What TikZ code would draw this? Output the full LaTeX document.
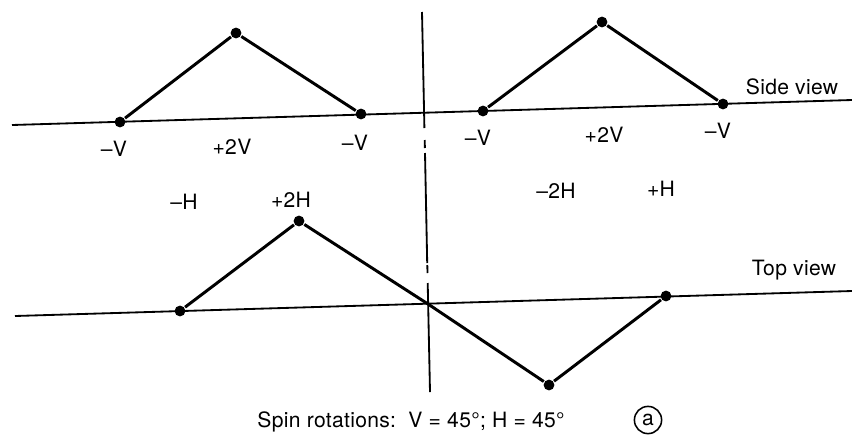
\documentclass[tikz,border=0pt]{standalone}
\usepackage{fontspec}
\setmainfont{TeX Gyre Heros}[LetterSpace=1.5]
\begin{document}
\begin{tikzpicture}[
  x=0.025cm, y=-0.025cm, line width=1.3pt,
    dot/.style={circle, fill=black, inner sep=0pt, minimum size=0.27cm},
    arm/.style={line width=2.1pt},
    lbl/.style={font=\fontsize{15}{17}\selectfont, inner sep=0pt},
]
\useasboundingbox (0,0) rectangle (852,436);
% axis lines
\coordinate (sl) at (12,125);
\coordinate (sr) at (852,100);
\coordinate (tl) at (15,316);
\coordinate (tr) at (852,291);
\draw (sl) -- (sr);
\draw (tl) -- (tr);
% broken vertical divider
\coordinate (d1) at (422,12);
\coordinate (d2) at (424.4,128);
\coordinate (d3) at (424.7,140);
\coordinate (d4) at (424.9,148);
\coordinate (d5) at (425,153);
\coordinate (d6) at (427.2,263);
\coordinate (d7) at (427.3,265);
\coordinate (d8) at (427.5,273);
\coordinate (d9) at (427.7,283);
\coordinate (d10) at (430,392);
\draw (d1) -- (d2);
\draw (d3) -- (d4);
\draw (d5) -- (d6);
\draw (d7) -- (d8);
\draw (d9) -- (d10);
% side view
\node[dot] (v1) at (120,122) {};
\node[dot] (v2) at (236,33) {};
\node[dot] (v3) at (361,114) {};
\node[dot] (v4) at (483,111) {};
\node[dot] (v5) at (602,22) {};
\node[dot] (v6) at (723,104) {};
\draw[arm] (v1) -- (v2) -- (v3);
\draw[arm] (v4) -- (v5) -- (v6);
\node[lbl] (lv1) at (114,149) {–V};
\node[lbl] (lv2) at (232,147) {+2V};
\node[lbl] (lv3) at (355,143) {–V};
\node[lbl] (lv4) at (478,138) {–V};
\node[lbl] (lv5) at (604,135) {+2V};
\node[lbl] (lv6) at (718,131) {–V};
\node[lbl] (side) at (792,87) {Side view};
% top view
\node[dot] (h1) at (180,311) {};
\node[dot] (h2) at (299,221) {};
\coordinate (h3) at (428,304);
\node[dot] (h4) at (549,385) {};
\node[dot] (h5) at (666,296) {};
\draw[arm] (h1) -- (h2) -- (h3) -- (h4) -- (h5);
\node[lbl] (lh1) at (184,202) {–H};
\node[lbl] (lh2) at (291,200) {+2H};
\node[lbl] (lh3) at (556,191) {–2H};
\node[lbl] (lh4) at (661,189) {+H};
\node[lbl] (top) at (794,270) {Top view};
% caption
\node[lbl] (cap) at (411,422) {Spin rotations:\ \ V = 45°; H = 45°};
\node[draw, circle, line width=1.1pt, minimum size=0.68cm, inner sep=0pt,
      font=\fontsize{15}{17}\selectfont] (tag) at (648,420) {a};
\end{tikzpicture}
\end{document}
